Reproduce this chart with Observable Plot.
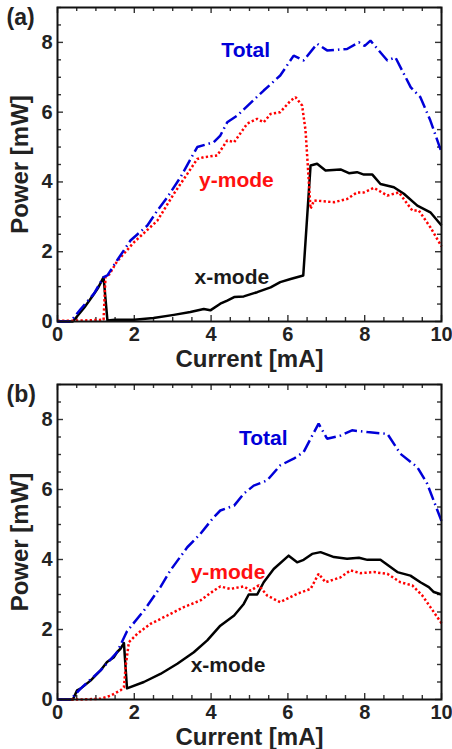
<!DOCTYPE html>
<html>
<head>
<meta charset="utf-8">
<script src="https://cdn.jsdelivr.net/npm/d3@7"></script>
<script src="https://cdn.jsdelivr.net/npm/@observablehq/plot@0.6"></script>
<style>
  html, body { margin: 0; padding: 0; background: white; }
  #chart svg { display: block; }
</style>
</head>
<body>
<div id="chart"></div>
<script>
// ---------- Data (Current [mA], Power [mW]) ----------
// Panel (a)
const aTotal = [[0,0],[0.34,0],[0.6,0.35],[0.95,0.8],[1.2,1.27],[1.3,1.32],[1.55,1.75],[1.9,2.32],[2.34,2.75],[2.6,3.18],[2.86,3.56],[3.2,4.13],[3.64,5.0],[4.07,5.14],[4.24,5.33],[4.42,5.71],[4.68,5.9],[5.37,6.62],[5.8,7.05],[6.15,7.62],[6.41,7.48],[6.76,7.96],[7.02,7.77],[7.54,7.81],[7.85,8.0],[8.0,7.9],[8.15,8.05],[8.59,7.48],[8.8,7.57],[9.2,6.71],[9.45,6.43],[9.71,5.76],[10,4.85]];
const aYmode = [[0,0.02],[0.4,0.02],[1.2,0.05],[1.25,1.28],[1.35,1.35],[1.55,1.72],[1.99,2.27],[2.6,2.89],[3.03,3.66],[3.38,4.23],[3.64,4.66],[3.81,4.71],[4.16,4.76],[4.42,5.19],[4.6,5.14],[4.94,5.67],[5.2,5.81],[5.37,5.71],[5.55,5.95],[5.8,6.0],[6.07,6.33],[6.2,6.43],[6.37,6.19],[6.46,5.47],[6.59,3.23],[6.68,3.47],[7.2,3.42],[7.54,3.51],[7.8,3.7],[7.98,3.7],[8.24,3.83],[8.59,3.61],[8.89,3.7],[9.24,3.18],[9.41,3.18],[9.71,2.7],[10,2.15]];
const aXmode = [[0,0],[0.4,0],[0.7,0.4],[0.95,0.79],[1.05,0.95],[1.2,1.27],[1.3,0.03],[1.5,0.05],[2.0,0.05],[2.5,0.1],[3.03,0.19],[3.46,0.27],[3.81,0.36],[3.98,0.32],[4.24,0.51],[4.42,0.6],[4.6,0.7],[4.85,0.72],[5.2,0.84],[5.55,0.98],[5.8,1.13],[6.07,1.22],[6.4,1.32],[6.59,4.47],[6.76,4.52],[6.98,4.33],[7.37,4.36],[7.59,4.25],[7.8,4.28],[7.98,4.21],[8.2,4.21],[8.41,3.94],[8.76,3.85],[9.02,3.66],[9.37,3.32],[9.71,3.13],[10,2.75]];
// Panel (b)
const bTotal = [[0,0],[0.34,0],[0.6,0.31],[1.12,0.83],[1.55,1.35],[1.81,1.95],[2.25,2.54],[2.68,3.21],[2.94,3.69],[3.38,4.35],[3.72,4.73],[4.07,5.21],[4.24,5.4],[4.6,5.54],[4.85,5.88],[5.11,6.11],[5.46,6.26],[5.8,6.69],[6.15,6.88],[6.41,7.07],[6.59,7.45],[6.8,7.88],[7.02,7.45],[7.37,7.54],[7.67,7.69],[8.07,7.64],[8.59,7.59],[8.93,7.02],[9.37,6.64],[9.63,6.16],[10,5.1]];
const bYmode = [[0,0],[0.6,0],[1.12,0.02],[1.38,0.11],[1.64,0.26],[1.73,0.35],[1.78,1.0],[1.86,1.64],[2.08,1.88],[2.42,2.16],[2.86,2.4],[3.29,2.64],[3.72,2.83],[4.07,3.11],[4.24,3.23],[4.5,3.16],[4.85,3.23],[5.03,3.11],[5.24,3.26],[5.46,2.97],[5.8,2.78],[6.24,3.02],[6.59,3.16],[6.8,3.59],[6.98,3.35],[7.37,3.49],[7.63,3.69],[7.89,3.61],[8.24,3.64],[8.59,3.59],[8.93,3.35],[9.24,3.26],[9.5,2.97],[9.71,2.64],[10,2.18]];
const bXmode = [[0,0],[0.4,0],[0.51,0.26],[0.6,0.31],[0.86,0.54],[1.12,0.83],[1.29,1.07],[1.47,1.21],[1.55,1.35],[1.64,1.45],[1.73,1.61],[1.81,0.32],[2.25,0.5],[2.68,0.73],[3.12,1.02],[3.55,1.35],[3.9,1.69],[4.24,2.11],[4.6,2.4],[4.85,2.73],[4.98,3.0],[5.2,3.0],[5.37,3.35],[5.63,3.73],[6.02,4.11],[6.24,3.92],[6.41,3.99],[6.63,4.16],[6.85,4.21],[7.2,4.07],[7.54,4.02],[7.85,4.05],[8.07,3.99],[8.41,3.99],[8.85,3.64],[9.19,3.54],[9.45,3.35],[9.67,3.21],[9.8,3.07],[10,3.0]];

// Series labels (text, anchor in data units)
const seriesNames = ["Total", "y-mode", "x-mode"];
const seriesColors = ["#0000d8", "#ff1010", "#1a1a1a"];
const aLabelX = [4.9, 4.66, 4.54];
const aLabelY = [7.77, 4.04, 1.26];
const bLabelX = [5.36, 4.44, 4.44];
const bLabelY = [7.46, 3.63, 0.97];

// Ticks
const xMajor = [0, 2, 4, 6, 8, 10];
const xMinor = [0.5, 1, 1.5, 2.5, 3, 3.5, 4.5, 5, 5.5, 6.5, 7, 7.5, 8.5, 9, 9.5];
const yMajor = [0, 2, 4, 6, 8];
const yMinor = [0.5, 1, 1.5, 2.5, 3, 3.5, 4.5, 5, 5.5, 6.5, 7, 7.5, 8.5, 9];

const panelLabels = ["(a)", "(b)"];
const xTitle = "Current [mA]";
const yTitle = "Power [mW]";

const FONT = "'Liberation Sans', Arial, Helvetica, sans-serif";

function panel({total, ymode, xmode, labelX, labelY, tag, height, marginTop, marginBottom}) {
  const marginLeft = 57, marginRight = 11;
  const plotH = height - marginTop - marginBottom;
  const plotW = 452 - marginLeft - marginRight;
  const maj = 6, mnr = 4;
  const labels = seriesNames.map((t, i) => ({t, x: labelX[i], y: labelY[i], c: seriesColors[i]}));
  const tickStyle = {stroke: "#333", strokeWidth: 1.4};
  return Plot.plot({
    width: 452,
    height,
    marginTop, marginBottom, marginLeft, marginRight,
    x: {domain: [0, 10]},
    y: {domain: [0, 9]},
    style: {fontFamily: FONT, fontWeight: "bold", fontSize: "20px", color: "#222", background: "white", overflow: "visible"},
    marks: [
      // inward ticks on all four sides
      Plot.tickX(xMajor, {x: d => d, insetTop: plotH - maj, ...tickStyle}),
      Plot.tickX(xMinor, {x: d => d, insetTop: plotH - mnr, ...tickStyle}),
      Plot.tickX(xMajor, {x: d => d, insetBottom: plotH - maj, ...tickStyle}),
      Plot.tickX(xMinor, {x: d => d, insetBottom: plotH - mnr, ...tickStyle}),
      Plot.tickY(yMajor, {y: d => d, insetRight: plotW - maj, ...tickStyle}),
      Plot.tickY(yMinor, {y: d => d, insetRight: plotW - mnr, ...tickStyle}),
      Plot.tickY(yMajor, {y: d => d, insetLeft: plotW - maj, ...tickStyle}),
      Plot.tickY(yMinor, {y: d => d, insetLeft: plotW - mnr, ...tickStyle}),
      Plot.axisX({ticks: xMajor, tickSize: 0, tickPadding: 5, label: null, tickFormat: d => String(d)}),
      Plot.axisY({ticks: yMajor, tickSize: 0, tickPadding: 5, label: null, tickFormat: d => String(d)}),
      // series
      Plot.line(xmode, {x: d => d[0], y: d => d[1], stroke: "#000", strokeWidth: 2.5, strokeLinejoin: "round", strokeLinecap: "butt"}),
      Plot.line(ymode, {x: d => d[0], y: d => d[1], stroke: "#ff0000", strokeWidth: 2.5, strokeLinecap: "butt", strokeLinejoin: "miter", strokeDasharray: "2.3,2.3"}),
      Plot.line(total, {x: d => d[0], y: d => d[1], stroke: "#0000d8", strokeWidth: 2.5, strokeLinecap: "butt", strokeLinejoin: "miter", strokeDasharray: "13,4,1.5,4"}),
      Plot.frame({stroke: "#111", strokeWidth: 2}),
      // series labels
      Plot.text(labels, {x: "x", y: "y", text: "t", fill: d => d.c, fontSize: 21, fontWeight: "bold"}),
      // axis titles
      Plot.text([xTitle], {text: d => d, frameAnchor: "bottom", dy: 38, fontSize: 24, fontWeight: "bold", fill: "#222", textAnchor: "middle", lineAnchor: "middle"}),
      Plot.text([yTitle], {text: d => d, frameAnchor: "left", dx: -37, rotate: -90, fontSize: 24, fontWeight: "bold", fill: "#222", textAnchor: "middle", lineAnchor: "middle"}),
      // panel tag
      Plot.text([tag], {text: d => d, frameAnchor: "top-left", dx: -51, dy: 1, textAnchor: "start", lineAnchor: "top", fontSize: 23, fontWeight: "bold", fill: "#222"})
    ]
  });
}

const chart = document.getElementById("chart");
chart.append(panel({total: aTotal, ymode: aYmode, xmode: aXmode, labelX: aLabelX, labelY: aLabelY, tag: panelLabels[0], height: 372, marginTop: 7, marginBottom: 51}));
chart.append(panel({total: bTotal, ymode: bYmode, xmode: bXmode, labelX: bLabelX, labelY: bLabelY, tag: panelLabels[1], height: 377, marginTop: 12, marginBottom: 50}));
</script>
</body>
</html>
